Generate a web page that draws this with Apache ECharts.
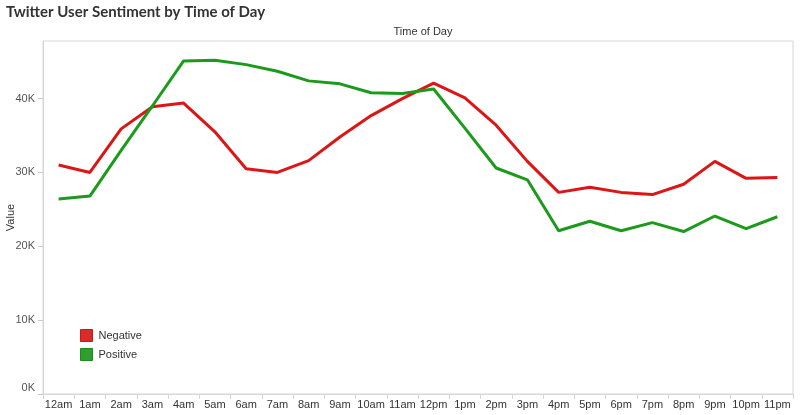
<!DOCTYPE html>
<html>
<head>
<meta charset="utf-8">
<title>Twitter User Sentiment by Time of Day</title>
<script src="https://cdn.jsdelivr.net/npm/echarts@6/dist/echarts.min.js"></script>
<style>
    html, body { margin: 0; padding: 0; background: #fff; }
    #chart { width: 800px; height: 415px; }
</style>
</head>
<body>
<div id="chart"></div>
<script>
// 数据
let hours = ['12am', '1am', '2am', '3am', '4am', '5am', '6am', '7am', '8am', '9am', '10am', '11am',
    '12pm', '1pm', '2pm', '3pm', '4pm', '5pm', '6pm', '7pm', '8pm', '9pm', '10pm', '11pm'];
let negative = [31000, 30000, 35900, 38900, 39400, 35500, 30500, 30000, 31600, 34800, 37700, 40000,
    42100, 40100, 36400, 31500, 27300, 28000, 27300, 27000, 28400, 31500, 29200, 29300];
let positive = [26400, 26800, 33000, 39000, 45100, 45200, 44600, 43700, 42400, 42000, 40800, 40700,
    41300, 36000, 30600, 29000, 22100, 23400, 22100, 23200, 22000, 24100, 22400, 24000];
let yTicks = [0, 10000, 20000, 30000, 40000];

let font = '"Liberation Sans", Arial, sans-serif';

let myChart = echarts.init(document.getElementById('chart'));
let option = {
    animation: false,
    title: [{
        text: 'Twitter User Sentiment by Time of Day',
        left: 1,
        top: 0,
        textStyle: {
            color: '#333',
            fontFamily: 'Lato, "DejaVu Sans", sans-serif',
            fontWeight: 'bold',
            fontSize: 15
        }
    }, {
        text: 'Time of Day',
        left: 418,
        top: 21,
        textAlign: 'center',
        textStyle: {
            color: '#333',
            fontFamily: font,
            fontWeight: 'normal',
            fontSize: 11
        }
    }],
    legend: {
        orient: 'vertical',
        left: 80,
        top: 329,
        padding: 0,
        itemWidth: 12,
        itemHeight: 12,
        itemGap: 6,
        icon: 'rect',
        textStyle: {
            color: '#333',
            fontFamily: font,
            fontSize: 11,
            padding: [0, 0, 0, 1]
        },
        data: [{
            name: 'Negative',
            itemStyle: { color: '#d92b2b', borderColor: '#c8191b', borderWidth: 1 }
        }, {
            name: 'Positive',
            itemStyle: { color: '#2f9d2f', borderColor: '#1d8a1d', borderWidth: 1 }
        }]
    },
    grid: {
        left: 43,
        right: 7,
        top: 41,
        bottom: 21,
        containLabel: false,
        outerBoundsMode: 'none',
        show: true,
        borderColor: '#d6d6d6',
        borderWidth: 1
    },
    xAxis: {
        type: 'category',
        data: hours,
        boundaryGap: true,
        axisLine: { lineStyle: { color: '#d6d6d6' } },
        axisTick: { show: true, interval: 0, length: 5, lineStyle: { color: '#d6d6d6' } },
        axisLabel: {
            interval: 0,
            color: '#333',
            fontFamily: font,
            fontSize: 11,
            margin: 5
        },
        splitLine: { show: false }
    },
    yAxis: {
        type: 'value',
        min: 0,
        max: 47800,
        interval: 10000,
        name: 'Value',
        nameLocation: 'middle',
        nameGap: 27,
        nameMoveOverlap: false,
        nameRotate: 90,
        nameTextStyle: { color: '#333', fontFamily: font, fontSize: 11 },
        axisLine: { show: true, lineStyle: { color: '#d6d6d6' } },
        axisTick: { show: true, length: 5, lineStyle: { color: '#cccccc' } },
        axisLabel: {
            color: '#555',
            fontFamily: font,
            fontSize: 11,
            margin: 8,
            showMaxLabel: false,
            formatter: function(v) {
                if (yTicks.indexOf(v) < 0) return '';
                if (v === 0) return '{z|0K}';
                return (v / 1000) + 'K';
            },
            rich: {
                z: { color: '#555', fontFamily: font, fontSize: 11, padding: [0, 0, 12, 0] }
            }
        },
        splitLine: { show: false }
    },
    series: [{
        name: 'Negative',
        type: 'line',
        data: negative,
        showSymbol: false,
        symbol: 'none',
        color: '#dc1616',
        lineStyle: { width: 3, color: '#dc1616' }
    }, {
        name: 'Positive',
        type: 'line',
        data: positive,
        showSymbol: false,
        symbol: 'none',
        color: '#1b9a1b',
        lineStyle: { width: 3, color: '#1b9a1b' }
    }]
};
myChart.setOption(option);
</script>
</body>
</html>
